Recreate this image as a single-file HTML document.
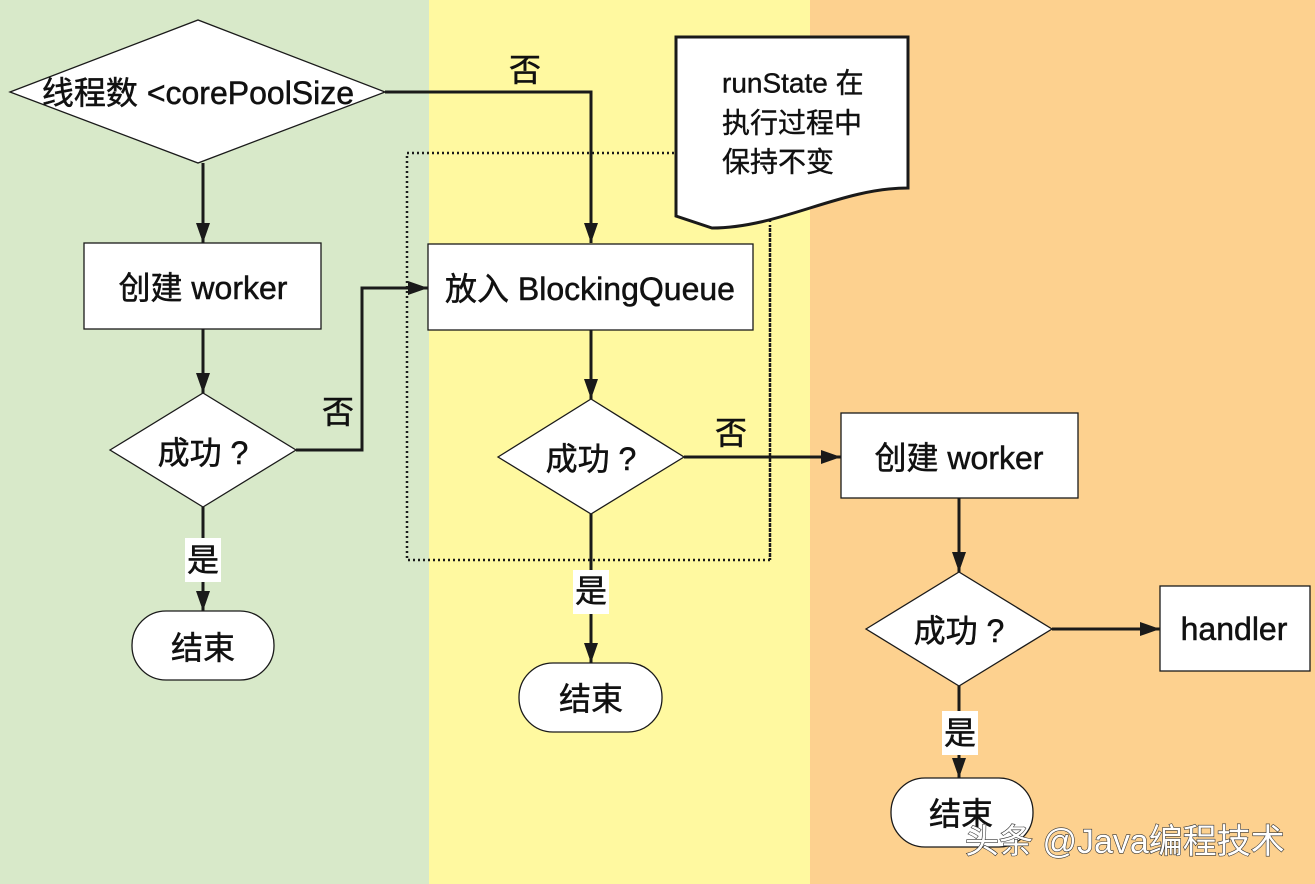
<!DOCTYPE html>
<html><head><meta charset="utf-8"><style>
html,body{margin:0;padding:0;width:1315px;height:884px;overflow:hidden}
svg text{font-family:"Liberation Sans","Noto Sans CJK SC",sans-serif;fill:#111}
</style></head><body>
<svg width="1315" height="884" viewBox="0 0 1315 884" xmlns="http://www.w3.org/2000/svg">
<defs><marker id="b" markerWidth="22" markerHeight="20" refX="20" refY="10" orient="auto" markerUnits="userSpaceOnUse"><path d="M0,3 L20,10 L0,17 z" fill="#1a1a1a"/></marker></defs>
<rect x="0" y="0" width="429" height="884" fill="#d8e9c9"/>
<rect x="429" y="0" width="381" height="884" fill="#fff9a0"/>
<rect x="810" y="0" width="505" height="884" fill="#fdd18f"/>
<rect x="407" y="153" width="363" height="407" stroke="#1a1a1a" stroke-dasharray="2,3" stroke-width="2.5" fill="none"/>
<g stroke="#1a1a1a" stroke-width="1.3" fill="#fff">
<path d="M10,92 L198,20 L385,92 L198,163 Z"/>
<rect x="84" y="243" width="237" height="86"/>
<path d="M110,450 L203,393 L296,450 L203,507 Z"/>
<rect x="132" y="611" width="142" height="69" rx="34" ry="34"/>
<rect x="428" y="244" width="325" height="86"/>
<path d="M498,457 L591,399 L684,457 L591,514 Z"/>
<rect x="519" y="663" width="143" height="69" rx="34" ry="34"/>
<rect x="841" y="413" width="237" height="85"/>
<path d="M866,629 L959,572 L1052,629 L959,686 Z"/>
<rect x="1160" y="586" width="150" height="85"/>
<rect x="891" y="778" width="142" height="69" rx="34" ry="34"/>
<path d="M676,37 L908,37 L908,188 C840,188 780,228 712,228 L676,216 Z" stroke-width="3"/>
</g>
<path d="M770,228 L770,560" stroke="#1a1a1a" stroke-width="2.5" stroke-dasharray="2,3" fill="none"/>
<g stroke="#1a1a1a" stroke-width="3" fill="none" marker-end="url(#b)">
<path d="M385,92 L591,92 L591,243"/>
<path d="M203,163 L203,243"/>
<path d="M203,329 L203,393"/>
<path d="M296,450 L362,450 L362,288 L428,288"/>
<path d="M203,507 L203,611"/>
<path d="M591,330 L591,399"/>
<path d="M684,457 L841,457"/>
<path d="M591,514 L591,663"/>
<path d="M959,498 L959,572"/>
<path d="M1052,629 L1160,629"/>
<path d="M959,686 L959,778"/>
</g>
<rect x="185" y="538" width="36" height="44" fill="#fff"/>
<rect x="573" y="570" width="36" height="44" fill="#fff"/>
<rect x="942" y="711" width="36" height="44" fill="#fff"/>
<g font-size="32" text-anchor="middle" dominant-baseline="central" stroke="#111" stroke-width="0.5">
<text x="198" y="93">线程数 &lt;corePoolSize</text>
<text x="203" y="288">创建 worker</text>
<text x="203" y="453">成功 ?</text>
<text x="203" y="648">结束</text>
<text x="590" y="289">放入 BlockingQueue</text>
<text x="591" y="459">成功 ?</text>
<text x="591" y="699">结束</text>
<text x="959" y="458">创建 worker</text>
<text x="959" y="631">成功 ?</text>
<text x="1234" y="629">handler</text>
<text x="961" y="814">结束</text>
<text x="525" y="70">否</text>
<text x="338" y="412">否</text>
<text x="731" y="433">否</text>
<text x="203" y="560">是</text>
<text x="591" y="591">是</text>
<text x="960" y="733">是</text>
</g>
<g font-size="28" dominant-baseline="central" stroke="#111" stroke-width="0.4">
<text x="722" y="83">runState 在</text>
<text x="722" y="123">执行过程中</text>
<text x="722" y="162">保持不变</text>
</g>
<text x="965" y="842" font-size="34" dominant-baseline="central" style="fill:#fff;stroke:#333;stroke-width:1.2;paint-order:stroke">头条 @Java编程技术</text>
</svg>
</body></html>
